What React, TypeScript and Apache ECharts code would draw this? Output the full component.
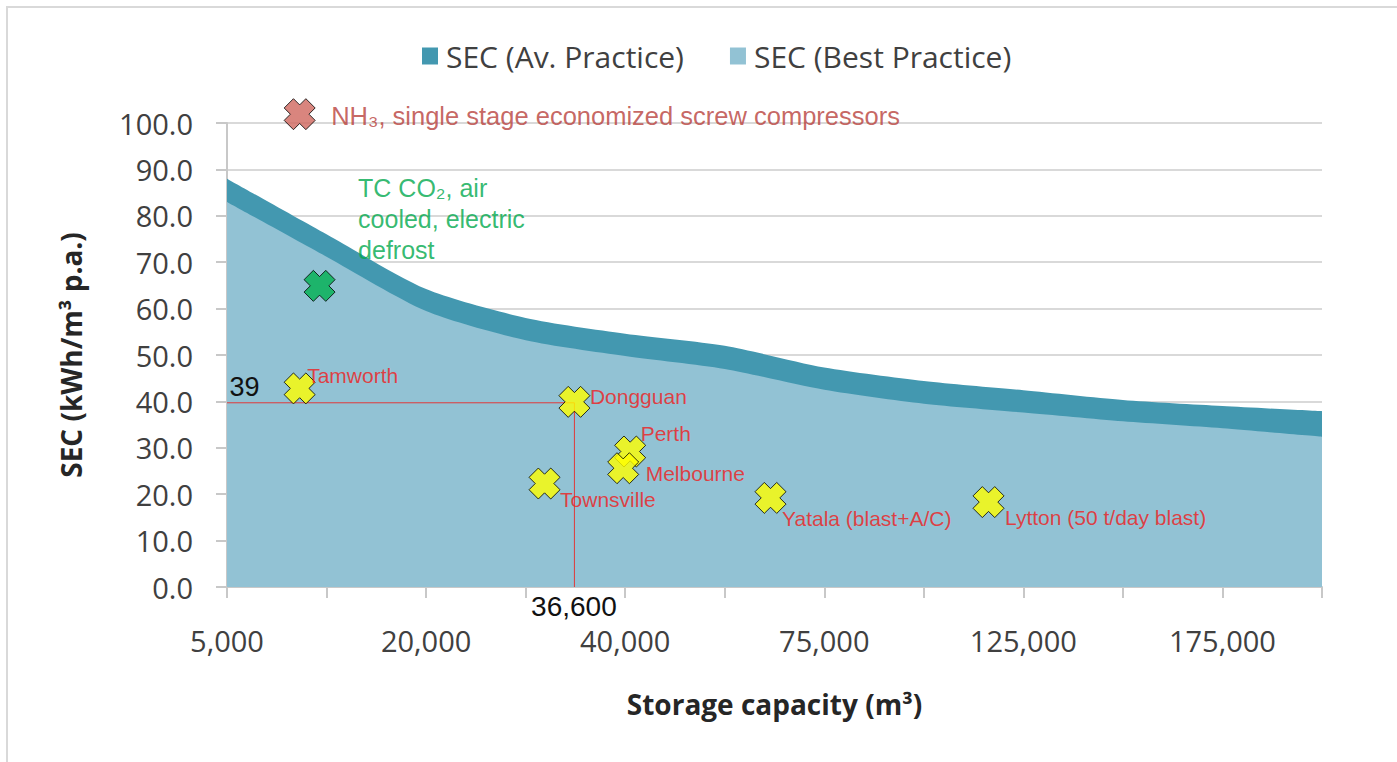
import React, { useEffect, useRef } from "react";
import * as echarts from "echarts";

const categories = ["5,000", "10,000", "20,000", "30,000", "40,000", "50,000", "75,000", "100,000", "125,000", "150,000", "175,000", "200,000"];
const avPractice = [88, 76, 64.2, 58, 54.6, 52, 47.3, 44.4, 42.4, 40.3, 39, 37.9];
const bestPractice = [83, 71.2, 59.5, 53.2, 49.8, 47, 42.5, 39.5, 37.6, 35.7, 34.2, 32.4];

// scatter points: position along the category axis (0 = 5,000 ... 11 = 200,000) and SEC value
const pointNames = [
  "NH₃, single stage economized screw compressors",
  "TC CO₂, air cooled, electric defrost",
  "Tamworth",
  "Dongguan",
  "Townsville",
  "Perth",
  "Melbourne",
  "Yatala (blast+A/C)",
  "Lytton (50 t/day blast)",
];
const pointLabels = [
  "NH₃, single stage economized screw compressors",
  "TC CO₂, air\ncooled, electric\ndefrost",
  "Tamworth",
  "Dongguan",
  "Townsville",
  "Perth",
  "Melbourne",
  "Yatala (blast+A/C)",
  "Lytton (50 t/day blast)",
];
const pointPos = [0.73, 0.93, 0.73, 3.49, 3.19, 4.05, 3.98, 5.46, 7.65];
const pointSEC = [101.9, 64.9, 42.8, 39.9, 22.3, 29.2, 25.6, 19.2, 18.3];

// reference lines to Dongguan
const refPos = [0, 3.49, 3.49];
const refSEC = [39.7, 39.7, 0];
const refTexts = ["39", "", "36,600"];

const SYMBOL_SIZE = 31;
const pointStyles = [
  { fill: "#d0665e", color: "#b8403b", size: 25.5, dx: 32, dy: 2 },
  { fill: "#00b050", color: "#00a84c", size: 25, dx: 39, dy: -66, lh: 31 },
  { fill: "#ffff00", color: "#f01c1c", size: 21, dx: 8, dy: -12 },
  { fill: "#ffff00", color: "#f01c1c", size: 21, dx: 16, dy: -5 },
  { fill: "#ffff00", color: "#f01c1c", size: 21, dx: 16, dy: 16 },
  { fill: "#ffff00", color: "#f01c1c", size: 21, dx: 11, dy: -18 },
  { fill: "#ffff00", color: "#f01c1c", size: 21, dx: 23, dy: 6 },
  { fill: "#ffff00", color: "#f01c1c", size: 21, dx: 12, dy: 21 },
  { fill: "#ffff00", color: "#f01c1c", size: 21, dx: 17, dy: 16 },
];

const X_SYMBOL = "path://M3,0 L5,2 L7,0 L10,3 L8,5 L10,7 L7,10 L5,8 L3,10 L0,7 L2,5 L0,3 Z";
const CAL = "'Open Sans', Lato, sans-serif";
const ARIAL = "'Liberation Sans', Arial, sans-serif";

export default function App() {
  const ref = useRef<HTMLDivElement>(null);
  useEffect(() => {
    if (!ref.current) return;
    const chart = echarts.init(ref.current, null, { renderer: "svg" });
    const half = SYMBOL_SIZE / 2;
    const scatterData = pointNames.map((name, i) => {
      const s = pointStyles[i];
      return {
        name,
        value: [pointPos[i], pointSEC[i]],
        itemStyle: { color: s.fill, borderColor: "#000", borderWidth: 1 },
        label: {
          show: true,
          formatter: pointLabels[i],
          position: [half + s.dx, half + s.dy],
          align: "left",
          verticalAlign: "middle",
          color: s.color,
          fontSize: s.size,
          lineHeight: s.lh || s.size * 1.2,
          fontFamily: ARIAL,
        },
      };
    });
    const refData = refPos.map((p, i) => ({
      value: [p, refSEC[i]],
      label: refTexts[i]
        ? {
            show: true,
            formatter: refTexts[i],
            position: i === 0 ? [3, -15] : [0, 20],
            align: i === 0 ? "left" : "center",
            verticalAlign: "middle",
            color: "#111",
            fontSize: i === 0 ? 27 : 28,
            lineHeight: i === 0 ? 30 : 28,
            fontFamily: ARIAL,
          }
        : { show: false },
    }));
    chart.setOption({
      animation: false,
      backgroundColor: "#fff",
      graphic: [
        {
          type: "rect",
          shape: { x: 7, y: 7, width: 1500, height: 900 },
          style: { fill: "none", stroke: "#d9d9d9", lineWidth: 2 },
          silent: true,
        },
      ],
      legend: {
        left: 417,
        top: 36,
        itemWidth: 16,
        itemHeight: 17,
        itemGap: 46,
        icon: "rect",
        data: ["SEC (Av. Practice)", "SEC (Best Practice)"],
        textStyle: { fontFamily: CAL, fontSize: 30, color: "#404040", padding: [0, 0, 0, 3] },
      },
      grid: { left: 227, right: 75, top: 123, bottom: 175 },
      xAxis: [
        {
          type: "category",
          data: categories,
          boundaryGap: false,
          axisLine: { lineStyle: { color: "#c8c8c8", width: 2 } },
          axisTick: { show: true, interval: 0, length: 11, lineStyle: { color: "#c8c8c8", width: 2 } },
          axisLabel: { interval: 1, margin: 38, fontFamily: CAL, fontSize: 29, color: "#404040", lineHeight: 30 },
          splitLine: { show: false },
          name: "Storage capacity (m³)",
          nameLocation: "middle",
          nameGap: 103,
          nameTextStyle: { fontFamily: CAL, fontWeight: "bold", fontSize: 28, color: "#262626" },
        },
        { type: "value", min: 0, max: 11, show: false },
      ],
      yAxis: {
        type: "value",
        min: 0,
        max: 100,
        interval: 10,
        axisLine: { show: true, lineStyle: { color: "#c8c8c8", width: 2 } },
        axisTick: { show: true, length: 11, lineStyle: { color: "#c8c8c8", width: 2 } },
        axisLabel: { margin: 34, fontFamily: CAL, fontSize: 29, color: "#404040", formatter: (v: number) => v.toFixed(1) },
        splitLine: { show: true, lineStyle: { color: "#d9d9d9", width: 2 } },
        name: "SEC (kWh/m³ p.a.)",
        nameLocation: "middle",
        nameGap: 142,
        nameTextStyle: { fontFamily: CAL, fontWeight: "bold", fontSize: 28, color: "#262626" },
      },
      series: [
        {
          name: "SEC (Av. Practice)",
          type: "line",
          data: avPractice,
          smooth: 0.25,
          symbol: "none",
          lineStyle: { width: 0 },
          itemStyle: { color: "#4398b0" },
          areaStyle: { color: "#4398b0", opacity: 1 },
        },
        {
          name: "SEC (Best Practice)",
          type: "line",
          data: bestPractice,
          smooth: 0.25,
          symbol: "none",
          lineStyle: { width: 0 },
          itemStyle: { color: "#92c2d4" },
          areaStyle: { color: "#92c2d4", opacity: 1 },
        },
        {
          name: "ref",
          type: "line",
          xAxisIndex: 1,
          data: refData,
          symbol: "circle",
          symbolSize: 1,
          showSymbol: true,
          itemStyle: { color: "rgba(0,0,0,0)" },
          lineStyle: { color: "#e0393a", width: 1 },
          z: 3,
        },
        {
          name: "points",
          type: "scatter",
          xAxisIndex: 1,
          data: scatterData,
          symbol: X_SYMBOL,
          symbolSize: SYMBOL_SIZE,
          clip: false,
          z: 4,
        },
      ],
    });
    return () => chart.dispose();
  }, []);
  return <div ref={ref} style={{ position: "fixed", left: 0, top: 0, width: 1397, height: 762 }} />;
}
